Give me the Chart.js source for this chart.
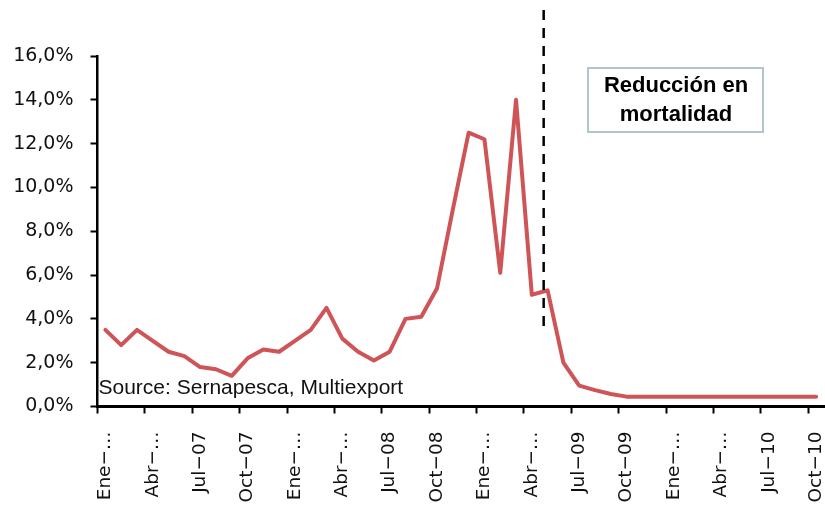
<!DOCTYPE html>
<html>
<head>
<meta charset="utf-8">
<script src="https://cdn.jsdelivr.net/npm/chart.js@4"></script>
<style>
  html, body { margin: 0; padding: 0; background: #fff; }
  #wrap { width: 825px; height: 509px; position: relative; }
</style>
</head>
<body>
<div id="wrap"><canvas id="myChart"></canvas></div>
<script>
// monthly categories Jan-07 .. Oct-10
const months = [
  "Ene-07","Feb-07","Mar-07","Abr-07","May-07","Jun-07","Jul-07","Ago-07","Sep-07","Oct-07","Nov-07","Dic-07",
  "Ene-08","Feb-08","Mar-08","Abr-08","May-08","Jun-08","Jul-08","Ago-08","Sep-08","Oct-08","Nov-08","Dic-08",
  "Ene-09","Feb-09","Mar-09","Abr-09","May-09","Jun-09","Jul-09","Ago-09","Sep-09","Oct-09","Nov-09","Dic-09",
  "Ene-10","Feb-10","Mar-10","Abr-10","May-10","Jun-10","Jul-10","Ago-10","Sep-10","Oct-10"
];
// mortality (%)
const mortality = [
  3.5, 2.8, 3.5, 3.0, 2.5, 2.3, 1.8, 1.7, 1.4, 2.2, 2.6, 2.5,
  3.0, 3.5, 4.5, 3.1, 2.5, 2.1, 2.5, 4.0, 4.1, 5.4, 9.0, 12.5,
  12.2, 6.1, 14.0, 5.1, 5.3, 2.0, 0.95, 0.75, 0.57, 0.45, 0.45, 0.45,
  0.45, 0.45, 0.45, 0.45, 0.45, 0.45, 0.45, 0.45, 0.45, 0.45
];
// labels shown every third month
const tickLabels = [
  "Ene\u2212\u2026","Abr\u2212\u2026","Jul\u221207","Oct\u221207",
  "Ene\u2212\u2026","Abr\u2212\u2026","Jul\u221208","Oct\u221208",
  "Ene\u2212\u2026","Abr\u2212\u2026","Jul\u221209","Oct\u221209",
  "Ene\u2212\u2026","Abr\u2212\u2026","Jul\u221210","Oct\u221210"
];
const yTicks = [0, 2, 4, 6, 8, 10, 12, 14, 16];
const markerMonth = 27.75;          // dashed line between Abr-09 and May-09
const markerRange = [3.35, 18.1];   // y extent of dashed line (%)
const noteLines = ["Reducción en", "mortalidad"];
const sourceText = "Source: Sernapesca, Multiexport";

Chart.defaults.font.family = "'DejaVu Sans', sans-serif";
Chart.defaults.color = '#111';

const annotations = {
  id: 'annotations',
  afterDatasetsDraw(chart) {
    const c = chart.ctx;
    const x = chart.scales.x, y = chart.scales.y;
    const area = chart.chartArea;

    // dashed marker
    const i0 = Math.floor(markerMonth);
    const px = x.getPixelForValue(i0) + (markerMonth - i0) * (x.getPixelForValue(i0 + 1) - x.getPixelForValue(i0));
    c.save();
    c.strokeStyle = '#000';
    c.lineWidth = 2.5;
    c.setLineDash([10, 8]);
    c.beginPath();
    c.moveTo(px, y.getPixelForValue(markerRange[1]));
    c.lineTo(px, y.getPixelForValue(markerRange[0]));
    c.stroke();
    c.restore();

    // note box
    c.save();
    c.strokeStyle = '#b3c5ca';
    c.lineWidth = 2;
    c.strokeRect(588, 68, 175, 64);
    c.fillStyle = '#000';
    c.font = "bold 22px 'Liberation Sans', Arial, sans-serif";
    c.textAlign = 'center';
    c.textBaseline = 'alphabetic';
    c.fillText(noteLines[0], 676, 92);
    c.fillText(noteLines[1], 676, 121);
    c.restore();

    // source
    c.save();
    c.fillStyle = '#111';
    c.font = "21px 'Liberation Sans', Arial, sans-serif";
    c.textAlign = 'left';
    c.fillText(sourceText, area.left + 1, 394);
    c.restore();
  }
};

new Chart(document.getElementById('myChart').getContext('2d'), {
  type: 'line',
  data: {
    labels: months,
    datasets: [{
      data: mortality,
      borderColor: '#cf5457',
      borderWidth: 4,
      borderCapStyle: 'round',
      borderJoinStyle: 'round',
      pointRadius: 0,
      tension: 0,
      fill: false
    }]
  },
  options: {
    responsive: true,
    maintainAspectRatio: false,
    animation: false,
    layout: { padding: { top: 56, right: 1, bottom: 0, left: 0 } },
    plugins: { legend: { display: false }, tooltip: { enabled: false } },
    scales: {
      x: {
        type: 'category',
        offset: true,
        border: { display: true, color: '#000', width: 3 },
        grid: {
          offset: true,
          drawOnChartArea: false,
          drawTicks: true,
          tickLength: 7,
          tickWidth: 2,
          tickColor: ctx => (ctx.index !== undefined && ctx.index % 3 === 0) ? '#000' : 'rgba(0,0,0,0)'
        },
        ticks: {
          autoSkip: false,
          minRotation: 90,
          maxRotation: 90,
          padding: 18,
          color: '#111',
          font: { size: 18.5 },
          callback: (v, i) => i % 3 === 0 ? tickLabels[i / 3] : ''
        },
        afterFit(s) { s.height = 102.5; s.paddingLeft = 0; s.paddingRight = 0; }
      },
      y: {
        min: 0,
        max: 16,
        border: { display: true, color: '#000', width: 2.5 },
        grid: { drawOnChartArea: false, drawTicks: true, tickLength: 7, tickWidth: 2, tickColor: '#000' },
        afterBuildTicks(s) { s.ticks = yTicks.map(v => ({ value: v })); },
        ticks: {
          padding: 17,
          color: '#111',
          font: { size: 19 },
          callback: v => v.toFixed(1).replace('.', ',') + '%'
        },
        afterFit(s) { s.width = 97.5; s.paddingTop = 0; s.paddingBottom = 0; }
      }
    }
  },
  plugins: [annotations]
});
</script>
</body>
</html>
